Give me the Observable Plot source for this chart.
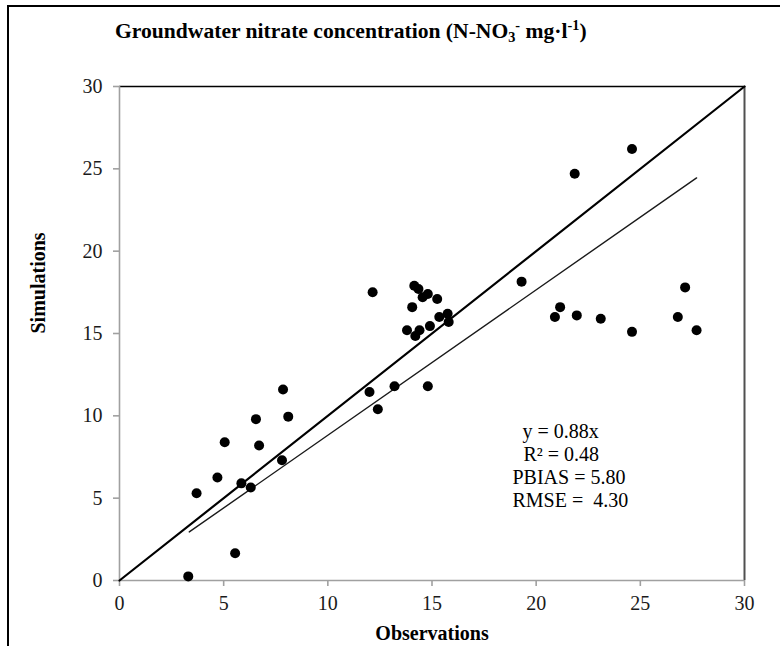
<!DOCTYPE html>
<html><head><meta charset="utf-8">
<script src="https://cdn.jsdelivr.net/npm/d3@7"></script>
<script src="https://cdn.jsdelivr.net/npm/@observablehq/plot@0.6"></script>
<style>
html,body{margin:0;padding:0;background:#fff;}
#wrap{position:relative;width:780px;height:646px;overflow:hidden;font-family:"Liberation Serif",serif;}
#border{position:absolute;left:7px;top:5px;width:800px;height:700px;border-top:2px solid #000;border-left:2px solid #000;}
#title{position:absolute;left:115px;top:19px;font-family:"Liberation Serif",serif;font-size:21.6px;font-weight:bold;white-space:nowrap;line-height:24px;color:#000;}
#title sub{font-size:0.66em;vertical-align:-0.3em;line-height:0;}
#title sup{font-size:0.66em;vertical-align:0.55em;line-height:0;}
#chart{position:absolute;left:0;top:60px;}
#chart svg text{font-family:"Liberation Serif",serif;}
#chart svg g[aria-label$="tick label"]{font-size:20px !important;font-family:"Liberation Serif",serif !important;}
</style>
</head><body>
<div id="wrap">
  <div id="border"></div>
  <div id="title">Groundwater nitrate concentration (N-NO<sub>3</sub><sup>-</sup> mg·l<sup>-1</sup>)</div>
  <div id="chart"></div>
</div>
<script>
// Observed vs simulated groundwater nitrate (mg/l)
const observations = [3.3,3.7,4.7,5.05,5.55,5.85,6.3,6.55,6.7,7.8,7.85,8.1,12.0,12.15,12.4,13.2,13.8,14.05,14.15,14.2,14.35,14.4,14.55,14.8,14.8,14.9,15.25,15.35,15.75,15.8,19.3,20.9,21.15,21.85,21.95,23.1,24.6,24.6,26.8,27.15,27.7];
const simulations  = [0.25,5.3,6.25,8.4,1.65,5.9,5.65,9.8,8.2,7.3,11.6,9.95,11.45,17.5,10.4,11.8,15.2,16.6,17.9,14.85,17.7,15.2,17.2,11.8,17.4,15.45,17.1,16.0,16.2,15.7,18.15,16.0,16.6,24.7,16.1,15.9,26.2,15.1,16.0,17.8,15.2];
const identityX = [0, 30];
const identityY = [0, 30];
const fitX = [3.35, 27.7];
const fitY = [2.95, 24.45];
const tickValues = [0, 5, 10, 15, 20, 25, 30];
const statsLabels = ["y = 0.88x", "R\u00b2 = 0.48", "PBIAS = 5.80", "RMSE = \u00a04.30"];
const xLabel = "Observations";
const yLabel = "Simulations";

// layout (not data)
const statsOffsets = [[403, 351], [404, 374], [393, 397], [393, 420]];
const serif = "Liberation Serif";

const points = observations.map((o, i) => ({o, s: simulations[i]}));
const idLine = identityX.map((x, i) => ({x, y: identityY[i]}));
const fitLine = fitX.map((x, i) => ({x, y: fitY[i]}));

const axisGray = "#a0a0a0";

const plot = Plot.plot({
  width: 780,
  height: 586,
  marginLeft: 119,
  marginRight: 36,
  marginTop: 26,
  marginBottom: 66,
  style: {fontFamily: serif, fontSize: "20px", color: "#1a1a1a", background: "transparent"},
  x: {domain: [0, 30], ticks: tickValues},
  y: {domain: [0, 30], ticks: tickValues},
  marks: [
    Plot.ruleY([30], {stroke: "#000", strokeWidth: 1.6}),
    Plot.ruleX([30], {stroke: "#505050", strokeWidth: 2}),
    Plot.ruleX([0], {stroke: axisGray, strokeWidth: 1.6}),
    Plot.ruleY([0], {stroke: axisGray, strokeWidth: 1.6}),
    Plot.axisX({ticks: tickValues, tickSize: 6, tickPadding: 9, stroke: axisGray, strokeWidth: 1.6, fill: "#1a1a1a", label: null, fontSize: 20, fontFamily: serif, fontVariant: "normal"}),
    Plot.axisY({ticks: tickValues, tickSize: 6, tickPadding: 11, stroke: axisGray, strokeWidth: 1.6, fill: "#1a1a1a", label: null, fontSize: 20, fontFamily: serif, fontVariant: "normal"}),
    Plot.line(fitLine, {x: "x", y: "y", stroke: "#1a1a1a", strokeWidth: 1.4}),
    Plot.line(idLine, {x: "x", y: "y", stroke: "#000", strokeWidth: 2.2}),
    Plot.dot(points, {x: "o", y: "s", r: 5, fill: "#000", stroke: "none"}),
    ...statsLabels.map((t, i) => Plot.text([t], {text: d => d, frameAnchor: "top-left", textAnchor: "start", lineAnchor: "middle", dx: statsOffsets[i][0], dy: statsOffsets[i][1] - 6.4, fontSize: 20, fontFamily: serif, fill: "#000"})),
    Plot.text([xLabel], {text: d => d, frameAnchor: "bottom", lineAnchor: "middle", dy: 53, fontSize: 20, fontFamily: serif, fontWeight: "bold", fill: "#000"}),
    Plot.text([yLabel], {text: d => d, frameAnchor: "left", rotate: -90, lineAnchor: "middle", dx: -81, fontSize: 20, fontFamily: serif, fontWeight: "bold", fill: "#000"})
  ]
});
document.getElementById("chart").appendChild(plot);
</script>
</body></html>
